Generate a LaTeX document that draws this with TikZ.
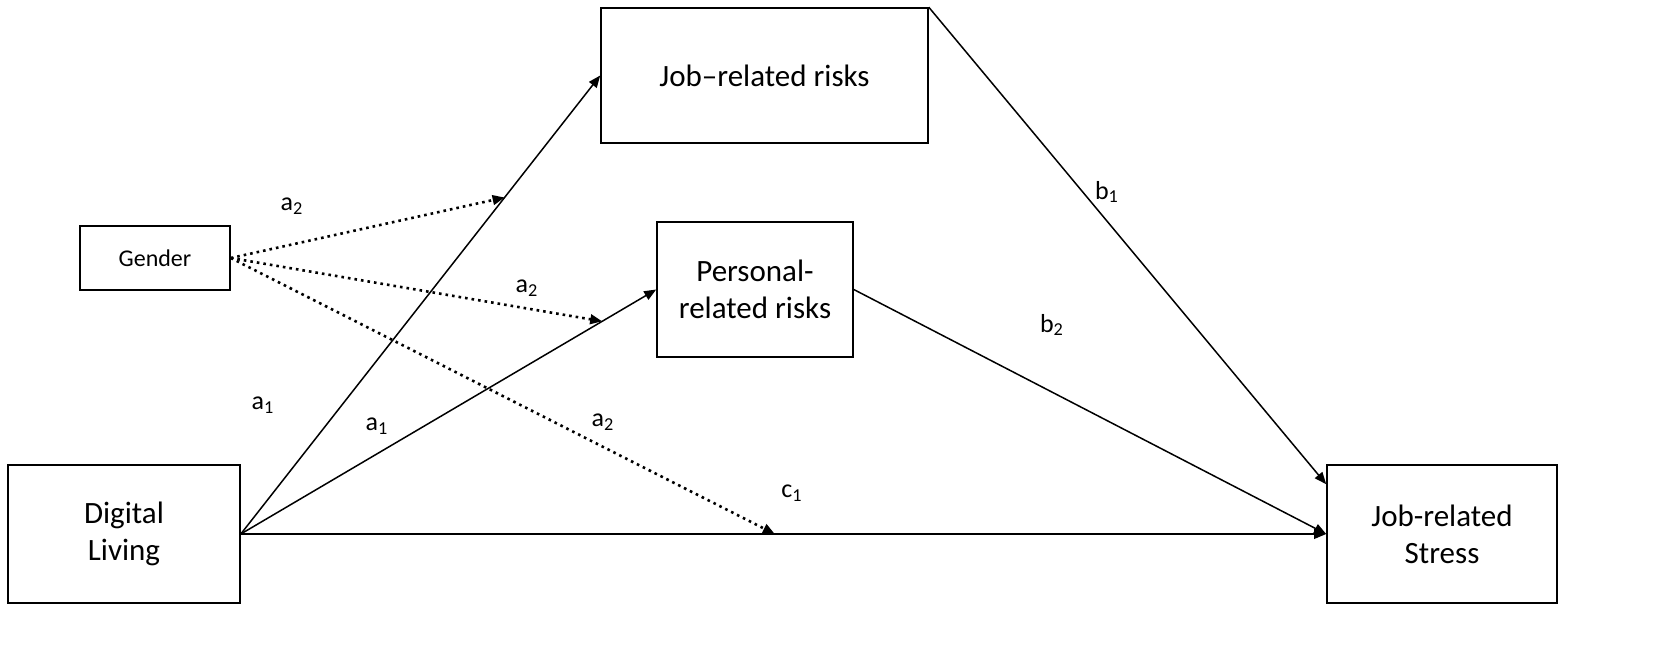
\documentclass[tikz,border=0pt]{standalone}
\usepackage{fontspec}
\setmainfont{Carlito}
\usetikzlibrary{arrows.meta,positioning}

\begin{document}
\begin{tikzpicture}[x=0.5pt,y=-0.5pt,>={Triangle[length=6pt,width=4.8pt]},
        line width=0.75pt,
        box/.style={draw,line width=0.8pt,align=center,inner sep=0pt,
            font=\fontsize{15.5}{18.5}\selectfont},
        coef/.style={font=\fontsize{13}{15}\selectfont},
        mod/.style={->,dotted,line width=1.3pt}]

        \useasboundingbox (0,0) rectangle (1654,645);

        \node[box,minimum width=116pt,minimum height=69pt] (DL) at (124,534) {Digital\\Living};
        \node[box,minimum width=115pt,minimum height=69pt] (JS) at (1442,534) {Job-related\\Stress};
        \node[box,minimum width=163.5pt,minimum height=67.5pt] (JR) at (764.5,75.5) {Job--related risks};
        \node[box,minimum width=98pt,minimum height=67.5pt] (PR) at (755,289.5) {Personal-\\related risks};
        \node[box,minimum width=75pt,minimum height=32pt,font=\fontsize{12}{14}\selectfont] (G) at (155,258) {Gender};

        % direct paths
        \draw[->] (DL.east) -- coordinate[pos=.734] (m1) (JR.west);
        \draw[->] (DL.east) -- coordinate[pos=.870] (m2) (PR.west);
        \draw[->] (DL.east) -- coordinate[pos=.492] (m3) (JS.west);
        \draw[->] (JR.north east) -- ([yshift=-10pt]JS.north west);
        \draw[->] (PR.east) -- (JS.west);

        % moderation
        \draw[mod] (G.east) -- (m1);
        \draw[mod] (G.east) -- (m2);
        \draw[mod] (G.east) -- (m3);

        \node[coef] (la2a) at (292,206) {a\textsubscript{2}};
        \node[coef] (la2b) at (527,288) {a\textsubscript{2}};
        \node[coef] (la2c) at (603,422) {a\textsubscript{2}};
        \node[coef] (la1a) at (263,405) {a\textsubscript{1}};
        \node[coef] (la1b) at (377,426) {a\textsubscript{1}};
        \node[coef] (lb1) at (1107,192) {b\textsubscript{1}};
        \node[coef] (lb2) at (1052,325) {b\textsubscript{2}};
        \node[coef] (lc1) at (792,493) {c\textsubscript{1}};

\end{tikzpicture}
\end{document}
